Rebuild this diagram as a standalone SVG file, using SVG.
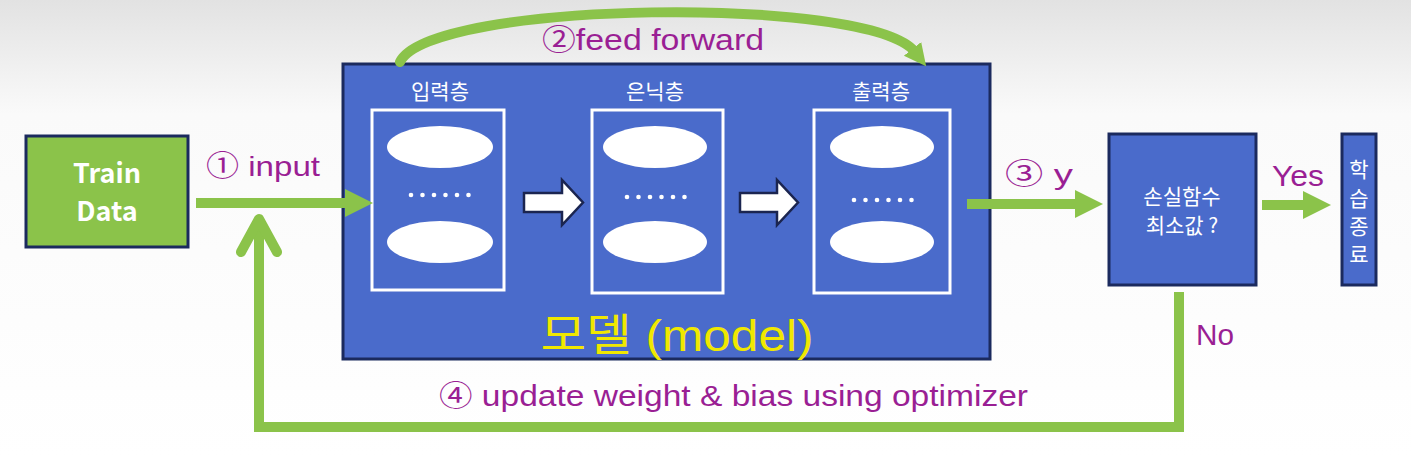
<svg xmlns="http://www.w3.org/2000/svg" width="1411" height="458" viewBox="0 0 1411 458">
<defs>
<linearGradient id="bg" x1="0" y1="0" x2="0" y2="1">
<stop offset="0" stop-color="#e2e2e2"/>
<stop offset="0.25" stop-color="#fafafa"/>
<stop offset="1" stop-color="#ffffff"/>
</linearGradient>
<marker id="head" markerUnits="userSpaceOnUse" markerWidth="30" markerHeight="30" refX="0" refY="14" orient="auto">
<path d="M0,0 L28,14 L0,28 z" fill="#8bc34a"/>
</marker>
<marker id="archead" markerUnits="userSpaceOnUse" markerWidth="30" markerHeight="30" refX="4" refY="11" orient="auto">
<path d="M0,0 L22,11 L0,22 z" fill="#8bc34a"/>
</marker>
<style>
.box{fill:#4a6bcb;stroke:#1b2a5e;stroke-width:3}
.gbox{fill:#8bc34a;stroke:#1b2a5e;stroke-width:3}
.layer{fill:none;stroke:#ffffff;stroke-width:3}
.node{fill:#ffffff}
.dot{fill:#ffffff}
.conn{fill:none;stroke:#8bc34a;stroke-width:10}
.lbl{font-family:"Liberation Sans","Noto Sans CJK KR",sans-serif;fill:#9a1f94}
.wt{font-family:"Noto Sans CJK KR","Liberation Sans",sans-serif;fill:#ffffff}
.barrow{fill:#ffffff;stroke:#1b2550;stroke-width:2.5;stroke-linejoin:miter}
</style>
</defs>
<rect x="0" y="0" width="1411" height="458" fill="url(#bg)"/>

<g id="train-data">
<rect class="gbox" x="26" y="136" width="162" height="111"/>
<text class="wt" x="107" y="183" font-size="27" font-weight="bold" text-anchor="middle" font-family="'DejaVu Sans','Liberation Sans',sans-serif">Train</text>
<text class="wt" x="107" y="221" font-size="27" font-weight="bold" text-anchor="middle" font-family="'DejaVu Sans','Liberation Sans',sans-serif">Data</text>
</g>

<g id="model">
<rect class="box" x="343" y="64" width="647" height="295"/>
<text x="677" y="351" font-size="44" text-anchor="middle" fill="#f0e800" font-family="'Liberation Sans','Noto Sans CJK KR',sans-serif" textLength="273" lengthAdjust="spacingAndGlyphs">모델 (model)</text>
</g>

<g id="input-layer">
<text class="wt" x="440" y="99" font-size="21" text-anchor="middle">입력층</text>
<rect class="layer" x="372" y="110" width="132" height="180"/>
<ellipse class="node" cx="440" cy="147" rx="53" ry="21"/>
<ellipse class="node" cx="440" cy="242" rx="53" ry="21"/>
<g class="dot"><circle cx="411" cy="195" r="2.3"/><circle cx="422.5" cy="195" r="2.3"/><circle cx="434" cy="195" r="2.3"/><circle cx="445.5" cy="195" r="2.3"/><circle cx="457" cy="195" r="2.3"/><circle cx="468.5" cy="195" r="2.3"/></g>
</g>

<g id="arrow-1">
<path class="barrow" d="M524,193 L562,193 L562,180 L583,202.5 L562,225 L562,212 L524,212 z"/>
</g>

<g id="hidden-layer">
<text class="wt" x="655" y="99" font-size="21" text-anchor="middle">은닉층</text>
<rect class="layer" x="592" y="110" width="131" height="183"/>
<ellipse class="node" cx="655" cy="147" rx="52" ry="21"/>
<ellipse class="node" cx="655" cy="242" rx="52" ry="21"/>
<g class="dot"><circle cx="627" cy="197" r="2.3"/><circle cx="638.5" cy="197" r="2.3"/><circle cx="650" cy="197" r="2.3"/><circle cx="661.5" cy="197" r="2.3"/><circle cx="673" cy="197" r="2.3"/><circle cx="684.5" cy="197" r="2.3"/></g>
</g>

<g id="arrow-2">
<path class="barrow" d="M740,193 L777,193 L777,180 L798,202.5 L777,225 L777,212 L740,212 z"/>
</g>

<g id="output-layer">
<text class="wt" x="881" y="99" font-size="21" text-anchor="middle">출력층</text>
<rect class="layer" x="814" y="110" width="136" height="183"/>
<ellipse class="node" cx="882" cy="147" rx="52" ry="21"/>
<ellipse class="node" cx="882" cy="242" rx="52" ry="21"/>
<g class="dot"><circle cx="854" cy="200" r="2.3"/><circle cx="865.5" cy="200" r="2.3"/><circle cx="877" cy="200" r="2.3"/><circle cx="888.5" cy="200" r="2.3"/><circle cx="900" cy="200" r="2.3"/><circle cx="911.5" cy="200" r="2.3"/></g>
</g>

<g id="loss">
<rect class="box" x="1109" y="134" width="147" height="151"/>
<text class="wt" x="1182" y="204" font-size="21" text-anchor="middle">손실함수</text>
<text class="wt" x="1182" y="233" font-size="21" text-anchor="middle">최소값 ?</text>
</g>

<g id="end">
<rect class="box" x="1342" y="134" width="34" height="151"/>
<text class="wt" x="1359" y="177" font-size="21" text-anchor="middle">학</text>
<text class="wt" x="1359" y="206" font-size="21" text-anchor="middle">습</text>
<text class="wt" x="1359" y="234" font-size="21" text-anchor="middle">종</text>
<text class="wt" x="1359" y="262" font-size="21" text-anchor="middle">료</text>
</g>

<g id="connectors">
<path class="conn" d="M 400 62 C 430 0, 870 -5, 915 52" stroke-linecap="round" marker-end="url(#archead)"/>
<line class="conn" x1="196" y1="203" x2="345" y2="203" marker-end="url(#head)"/>
<line class="conn" x1="967" y1="204" x2="1075" y2="204" marker-end="url(#head)"/>
<line class="conn" x1="1262" y1="205" x2="1303" y2="205" marker-end="url(#head)"/>
<polyline class="conn" points="1179,292 1179,427 259,427 259,220"/>
<polyline class="conn" points="241,252 259,219 277,252" stroke-linecap="round" stroke-linejoin="round"/>
</g>

<g id="labels">
<text class="lbl" x="206" y="176" font-size="28" textLength="114" lengthAdjust="spacingAndGlyphs">① input</text>
<text class="lbl" x="542" y="50" font-size="30" textLength="222" lengthAdjust="spacingAndGlyphs">②feed forward</text>
<text class="lbl" x="1005" y="184" font-size="28" textLength="68" lengthAdjust="spacingAndGlyphs">③  y</text>
<text class="lbl" x="1272" y="186" font-size="30" textLength="52" lengthAdjust="spacingAndGlyphs">Yes</text>
<text class="lbl" x="1196" y="345" font-size="30" textLength="38" lengthAdjust="spacingAndGlyphs">No</text>
<text class="lbl" x="439" y="406" font-size="30" textLength="589" lengthAdjust="spacingAndGlyphs">④ update weight &amp; bias using optimizer</text>
</g>
</svg>
